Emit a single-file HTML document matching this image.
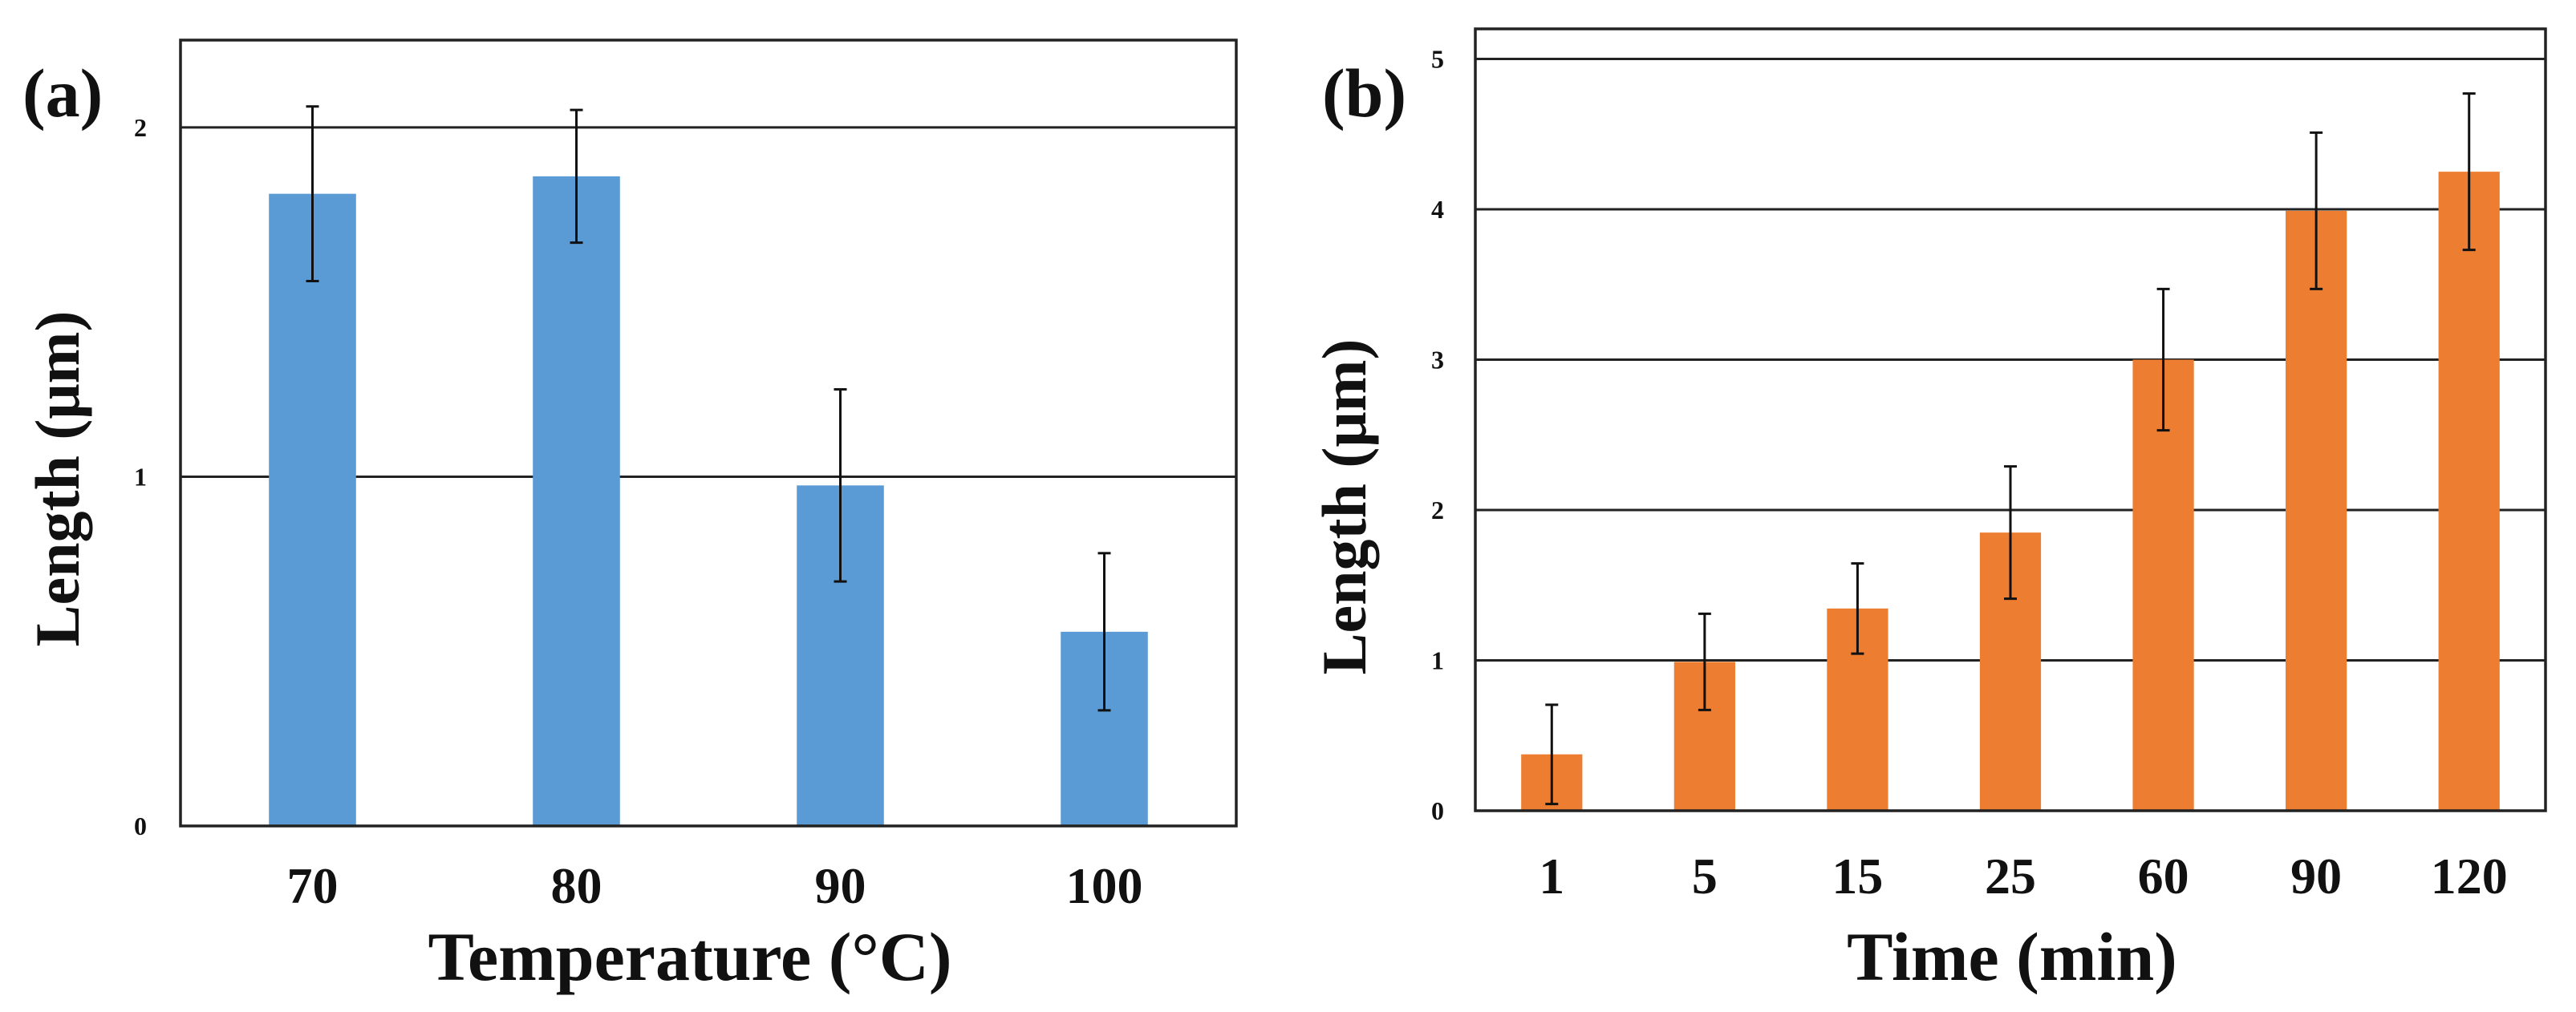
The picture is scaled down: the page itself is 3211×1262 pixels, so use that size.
<!DOCTYPE html>
<html><head><meta charset="utf-8"><style>
html,body{margin:0;padding:0;background:#fff;}
svg{display:block;font-family:"Liberation Serif",serif;font-weight:bold;}
</style></head><body>
<svg id="root" width="3211" height="1262" viewBox="0 0 3211 1262" xmlns="http://www.w3.org/2000/svg">
<g id="chartA"></g>
<g id="chartB"></g>
</svg>
<script>
const catsA = ["70","80","90","100"];
const valsA = [1.81, 1.86, 0.975, 0.556];
const errA = [0.25, 0.19, 0.275, 0.225];
const ticksA = [0, 1, 2];
const catsB = ["1","5","15","25","60","90","120"];
const valsB = [0.375, 0.99, 1.345, 1.85, 3.0, 3.99, 4.25];
const errB = [0.33, 0.32, 0.3, 0.44, 0.47, 0.52, 0.52];
const ticksB = [0, 1, 2, 3, 4, 5];

const NS = "http://www.w3.org/2000/svg";
function mk(parent, tag, attrs, text){
  const e = document.createElementNS(NS, tag);
  for (const k in attrs) e.setAttribute(k, attrs[k]);
  if (text !== undefined) e.textContent = text;
  parent.appendChild(e);
  return e;
}
function draw(g, cfg){
  const {x0,x1,yTop,y0,ymax,cats,vals,errs,ticks,color,barFrac,tickX,tickFs,catY,catFs,title,titleX,titleY,titleFs,yTitleX,yTitleY,panel,panelX} = cfg;
  const sy = v => y0 - v*(y0-yTop)/ymax;
  const cw = (x1-x0)/cats.length;
  const sx = i => x0 + cw*(i+0.5);
  ticks.forEach(t=>{
    if (t>0){
      const l = mk(g,"line",{x1:x0,x2:x1,y1:sy(t),y2:sy(t),stroke:"#222","stroke-width":3});
      
      
    }
    const tx = mk(g,"text",{x:tickX,y:sy(t)+11,"text-anchor":"middle","font-size":tickFs,fill:"#111"},String(t));
    
    
  });
  vals.forEach((v,i)=>{
    const bw = cw*barFrac;
    const r = mk(g,"rect",{x:sx(i)-bw/2,y:sy(v),width:bw,height:y0-sy(v),fill:color});
    
    
    const e = errs[i];
    const eg = mk(g,"g",{stroke:"#111","stroke-width":3});
    
    
    mk(eg,"line",{x1:sx(i),x2:sx(i),y1:sy(v+e),y2:sy(Math.max(0,v-e))});
    mk(eg,"line",{x1:sx(i)-8,x2:sx(i)+8,y1:sy(v+e),y2:sy(v+e)});
    mk(eg,"line",{x1:sx(i)-8,x2:sx(i)+8,y1:sy(Math.max(0,v-e)),y2:sy(Math.max(0,v-e))});
    const c = mk(g,"text",{x:sx(i),y:catY,"text-anchor":"middle","font-size":catFs,fill:"#111"},cats[i]);
    
    
  });
  const fr = mk(g,"rect",{x:x0,y:yTop,width:x1-x0,height:y0-yTop,fill:"none",stroke:"#222","stroke-width":3.5});
  
  
  const t = mk(g,"text",{x:titleX,y:titleY,"text-anchor":"middle","font-size":titleFs,fill:"#111"},title);
  
  
  const yt = mk(g,"text",{x:0,y:0,"text-anchor":"middle","font-size":78,fill:"#111",transform:`translate(${yTitleX},${yTitleY}) rotate(-90)`},"Length (μm)");
  
  
  const p = mk(g,"text",{x:panelX,y:145,"font-size":86,fill:"#111"},panel);
  
  
}
draw(document.getElementById("chartA"),{x0:225,x1:1541,yTop:50,y0:1030,ymax:2.25,cats:catsA,vals:valsA,errs:errA,ticks:ticksA,color:"#5b9bd5",barFrac:0.33,tickX:175,tickFs:32,catY:1126,catFs:64,title:"Temperature (°C)",titleX:860,titleY:1222,titleFs:86,yTitleX:98,yTitleY:597,panel:"(a)",panelX:28});
draw(document.getElementById("chartB"),{x0:1839,x1:3173,yTop:36,y0:1011,ymax:5.2,cats:catsB,vals:valsB,errs:errB,ticks:ticksB,color:"#ed7d31",barFrac:0.4,tickX:1792,tickFs:32,catY:1114,catFs:64,title:"Time (min)",titleX:2508,titleY:1222,titleFs:86,yTitleX:1702,yTitleY:632,panel:"(b)",panelX:1648});
</script>
</body></html>
